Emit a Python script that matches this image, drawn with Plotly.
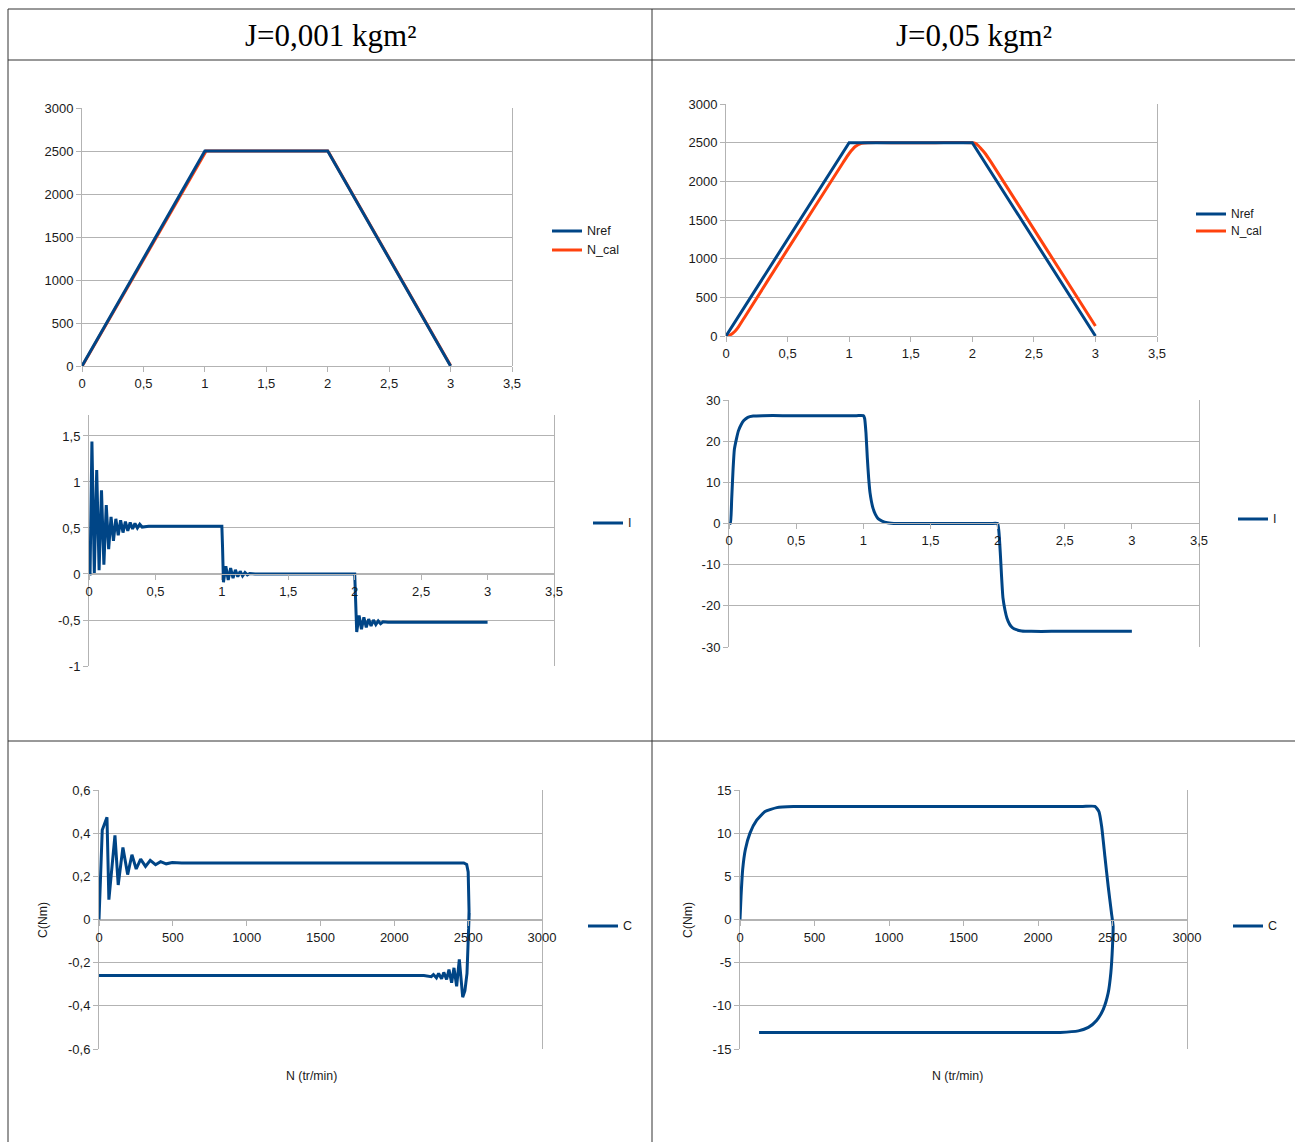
import plotly.graph_objects as go

W, H = 1295, 1142

# ---------------- data ----------------
# speed references (both inertias)
t_nref = [0, 1, 2, 3]
nref = [0, 2500, 2500, 0]

# J = 0.001 : computed speed (almost identical to reference)
t_ncal_1 = [0, 0.01, 1.0, 1.01, 2.0, 2.01, 3.0]
ncal_1 = [0, 20, 2475, 2500, 2500, 2480, 5]

# J = 0.05 : computed speed (lags the reference)
t_ncal_2 = [0, 0.025, 0.05, 0.075, 0.1, 0.15, 0.5, 0.95, 1.0, 1.05, 1.1, 1.15, 1.4,
            1.7, 2.0, 2.025, 2.05, 2.075, 2.1, 2.15, 2.6, 3.0]
ncal_2 = [0, 8, 30, 65, 115, 240, 1120, 2240, 2360, 2450, 2490, 2500, 2500,
          2500, 2500, 2490, 2460, 2415, 2370, 2255, 1130, 130]

# J = 0.001 : current
t_i_1 = [0, 0.008, 0.022, 0.04, 0.058, 0.076, 0.094, 0.112, 0.13, 0.148, 0.166,
         0.184, 0.202, 0.22, 0.238, 0.256, 0.274, 0.292, 0.31, 0.328, 0.346,
         0.364, 0.382, 0.4, 0.45, 1.0,
         1.005, 1.012, 1.03, 1.048, 1.066, 1.084, 1.102, 1.12, 1.138, 1.156,
         1.174, 1.192, 1.21, 1.25, 2.0,
         2.005, 2.015, 2.033, 2.051, 2.069, 2.087, 2.105, 2.123, 2.141, 2.159,
         2.177, 2.195, 2.213, 2.25, 3.0]
i_1 = [0, 0.0, 1.44, 0.01, 1.13, 0.04, 0.91, 0.1, 0.75, 0.27, 0.62,
       0.36, 0.6, 0.42, 0.585, 0.45, 0.57, 0.47, 0.56, 0.49, 0.55,
       0.5, 0.54, 0.51, 0.52, 0.52,
       0.3, -0.09, 0.085, -0.065, 0.065, -0.045, 0.045, -0.03, 0.03, -0.02,
       0.015, -0.01, 0.005, 0, 0,
       -0.3, -0.63, -0.45, -0.6, -0.47, -0.58, -0.49, -0.565, -0.5, -0.55,
       -0.51, -0.54, -0.52, -0.525, -0.525]

# J = 0.05 : current
t_i_2 = [0, 0.01, 0.02, 0.03, 0.04, 0.055, 0.07, 0.09, 0.11, 0.14, 0.18, 0.25,
         0.4, 0.6, 0.8, 0.95, 1.0,
         1.01, 1.02, 1.03, 1.04, 1.05, 1.07, 1.09, 1.11, 1.14, 1.18, 1.25,
         1.4, 1.6, 1.8, 1.95, 2.0,
         2.01, 2.02, 2.03, 2.04, 2.055, 2.07, 2.09, 2.11, 2.14, 2.18, 2.25,
         2.4, 2.6, 2.8, 3.0]
i_2 = [0, 0, 6, 13, 18, 20.5, 22.5, 24, 25, 25.8, 26.1, 26.2,
       26.2, 26.2, 26.2, 26.2, 26.2,
       25.5, 22, 16, 11, 7.5, 4, 2.2, 1.2, 0.6, 0.2, 0,
       0, 0, 0, 0, 0,
       -2, -7, -13, -18, -21, -23, -24.5, -25.3, -25.8, -26.1, -26.2,
       -26.2, -26.2, -26.2, -26.2]

# J = 0.001 : torque vs speed
n_c_1 = [0, 22, 54, 67, 108, 130, 162, 194, 223, 252, 282, 315, 347, 383, 417, 455,
         496, 560, 2470, 2490, 2500, 2505, 2506, 2503, 2507, 2502, 2504, 2500, 2492,
         2478, 2463, 2440, 2422, 2404, 2388, 2370, 2354, 2335, 2320, 2300, 2285,
         2265, 2250, 2200, 0]
c_1 = [0, 0.415, 0.474, 0.092, 0.39, 0.16, 0.334, 0.208, 0.3, 0.234, 0.28, 0.246,
       0.274, 0.254, 0.268, 0.258, 0.264, 0.262, 0.262, 0.255, 0.22, 0.12, 0.04,
       -0.04, 0.03, -0.03, 0.01, -0.12, -0.25, -0.33, -0.36, -0.185, -0.31, -0.224,
       -0.293, -0.232, -0.278, -0.245, -0.275, -0.25, -0.27, -0.255, -0.265, -0.26,
       -0.26]

# J = 0.05 : torque vs speed
n_c_2 = [0, 7, 18, 36, 67, 112, 168, 247, 359, 583, 900, 1300, 1700, 2100, 2300,
         2382, 2409, 2427, 2449, 2471, 2493, 2504, 2500, 2489, 2471, 2438, 2393, 2338,
         2271, 2149, 1900, 1500, 1000, 600, 300, 128]
c_2 = [0, 2.7, 5.8, 8.1, 10, 11.5, 12.5, 12.96, 13.08, 13.1, 13.1, 13.1, 13.1, 13.1,
       13.1, 13.1, 12.5, 10.8, 7.3, 3.85, 0.77, -0.77, -3.1, -6.15, -8.5, -10.4, -11.7,
       -12.5, -12.9, -13.08, -13.1, -13.1, -13.1, -13.1, -13.1, -13.1]

# tick labels
t_ticks = [0, 0.5, 1, 1.5, 2, 2.5, 3, 3.5]
t_ticktext = ["0", "0,5", "1", "1,5", "2", "2,5", "3", "3,5"]
n_ticks = [0, 500, 1000, 1500, 2000, 2500, 3000]
n_ticktext = ["0", "500", "1000", "1500", "2000", "2500", "3000"]
i1_ticks = [-1, -0.5, 0, 0.5, 1, 1.5]
i1_ticktext = ["-1", "-0,5", "0", "0,5", "1", "1,5"]
i2_ticks = [-30, -20, -10, 0, 10, 20, 30]
i2_ticktext = ["-30", "-20", "-10", "0", "10", "20", "30"]
c1_ticks = [-0.6, -0.4, -0.2, 0, 0.2, 0.4, 0.6]
c1_ticktext = ["-0,6", "-0,4", "-0,2", "0", "0,2", "0,4", "0,6"]
c2_ticks = [-15, -10, -5, 0, 5, 10, 15]
c2_ticktext = ["-15", "-10", "-5", "0", "5", "10", "15"]

headers = ["J=0,001 kgm²", "J=0,05 kgm²"]
x_title = "N (tr/min)"
y_title = "C(Nm)"

# ---------------- style ----------------
BLUE = "#004586"
ORANGE = "#ff420e"
GRID = "#b3b3b3"
TXT = "#1a1a1a"
FONT = "Liberation Sans"
LW = 3


def fx(px):
    return px / W


def fy(py):
    return 1 - py / H


fig = go.Figure()

series = [
    # (x, y, name, color, axis suffix, spline)
    (t_ncal_1, ncal_1, "N_cal", ORANGE, "", False),
    (t_nref, nref, "Nref", BLUE, "", False),
    (t_i_1, i_1, "I", BLUE, "2", False),
    (n_c_1, c_1, "C", BLUE, "3", False),
    (t_ncal_2, ncal_2, "N_cal", ORANGE, "4", True),
    (t_nref, nref, "Nref", BLUE, "4", False),
    (t_i_2, i_2, "I", BLUE, "5", True),
    (n_c_2, c_2, "C", BLUE, "6", True),
]
for xs, ys, name, col, suf, spl in series:
    line = dict(color=col, width=LW)
    if spl:
        line.update(shape="spline", smoothing=0.5)
    fig.add_trace(go.Scatter(x=xs, y=ys, name=name, mode="lines", line=line,
                             xaxis="x" + suf, yaxis="y" + suf, showlegend=False))

# axes: (suffix, left px, right px, top px, bottom px, xrange, yrange, x-axis px, xticks, yticks)
axes_spec = [
    ("", 82, 512, 108, 366, [0, 3.5], [0, 3000], 366, (t_ticks, t_ticktext),
     (n_ticks, n_ticktext)),
    ("2", 89, 554, 415, 666, [0, 3.5], [-1, 1.728], 574, (t_ticks, t_ticktext),
     (i1_ticks, i1_ticktext)),
    ("3", 99, 542, 790, 1049, [0, 3000], [-0.6, 0.6], 920, (n_ticks, n_ticktext),
     (c1_ticks, c1_ticktext)),
    ("4", 726, 1157, 104, 336, [0, 3.5], [0, 3000], 336, (t_ticks, t_ticktext),
     (n_ticks, n_ticktext)),
    ("5", 729, 1199, 400, 647, [0, 3.5], [-30, 30], 523, (t_ticks, t_ticktext),
     (i2_ticks, i2_ticktext)),
    ("6", 740, 1187, 790, 1049, [0, 3000], [-15, 15], 920, (n_ticks, n_ticktext),
     (c2_ticks, c2_ticktext)),
]

tickfont = dict(family=FONT, size=13, color=TXT)
layout_axes = {}
for suf, l, r, t, b, xr, yr, xpos, xt, yt in axes_spec:
    layout_axes["xaxis" + suf] = dict(
        domain=[fx(l), fx(r)], range=xr, anchor="free", position=fy(xpos),
        automargin=False,
        showgrid=False, zeroline=False, showline=True, linecolor=GRID, linewidth=1,
        ticks="outside", ticklen=5, tickcolor=GRID, tickwidth=1,
        tickvals=xt[0], ticktext=xt[1], tickfont=tickfont, fixedrange=True)
    layout_axes["yaxis" + suf] = dict(
        domain=[fy(b), fy(t)], range=yr, anchor="x" + suf, automargin=False,
        showgrid=True, gridcolor=GRID, gridwidth=1, zeroline=False,
        showline=True, mirror=True, linecolor=GRID, linewidth=1,
        ticks="outside", ticklen=5, tickcolor=GRID, tickwidth=1,
        tickvals=yt[0], ticktext=yt[1], tickfont=tickfont, fixedrange=True)

# table lines
LINE = dict(color="#333333", width=1)
shapes = [
    dict(type="line", xref="paper", yref="paper", x0=fx(8), x1=1, y0=fy(9), y1=fy(9), line=LINE),
    dict(type="line", xref="paper", yref="paper", x0=fx(8), x1=1, y0=fy(60), y1=fy(60), line=LINE),
    dict(type="line", xref="paper", yref="paper", x0=fx(8), x1=1, y0=fy(741), y1=fy(741), line=LINE),
    dict(type="line", xref="paper", yref="paper", x0=fx(8), x1=fx(8), y0=fy(9), y1=0, line=LINE),
    dict(type="line", xref="paper", yref="paper", x0=fx(652), x1=fx(652), y0=fy(9), y1=0, line=LINE),
]


def ann(text, x, y, size, family=FONT, angle=0, color=TXT, xanchor="center"):
    return dict(text=text, x=fx(x), y=fy(y), xref="paper", yref="paper",
                xanchor=xanchor, yanchor="middle", textangle=angle,
                showarrow=False, font=dict(family=family, size=size, color=color))


annotations = [
    ann(headers[0], 330, 36, 31, "Liberation Serif", color="#000"),
    ann(headers[1], 974, 36, 31, "Liberation Serif", color="#000"),
    ann(x_title, 311, 1076, 12.3),
    ann(x_title, 957, 1076, 12.3),
    ann(y_title, 43, 920, 12.3, angle=-90),
    ann(y_title, 688, 920, 12.3, angle=-90),
]

# legends drawn as line samples + labels (one legend per chart)
legend_items = [
    # (name, color, line start px, centre y px, font size)
    ("Nref", BLUE, 552, 231, 12.5),
    ("N_cal", ORANGE, 552, 250, 12.5),
    ("I", BLUE, 593, 523, 12.5),
    ("C", BLUE, 588, 926, 12.5),
    ("Nref", BLUE, 1196, 214, 12),
    ("N_cal", ORANGE, 1196, 231, 12),
    ("I", BLUE, 1238, 519, 12.5),
    ("C", BLUE, 1233, 926, 12.5),
]
for name, col, x0, yc, fs in legend_items:
    shapes.append(dict(type="line", xref="paper", yref="paper", x0=fx(x0), x1=fx(x0 + 30),
                       y0=fy(yc), y1=fy(yc), line=dict(color=col, width=3)))
    annotations.append(ann(name, x0 + 33, yc, fs, xanchor="left"))

fig.update_layout(
    width=W, height=H, margin=dict(l=0, r=0, t=0, b=0, autoexpand=False),
    paper_bgcolor="white", plot_bgcolor="white", showlegend=False,
    shapes=shapes, annotations=annotations, **layout_axes,
)

fig.write_html("out.html")
